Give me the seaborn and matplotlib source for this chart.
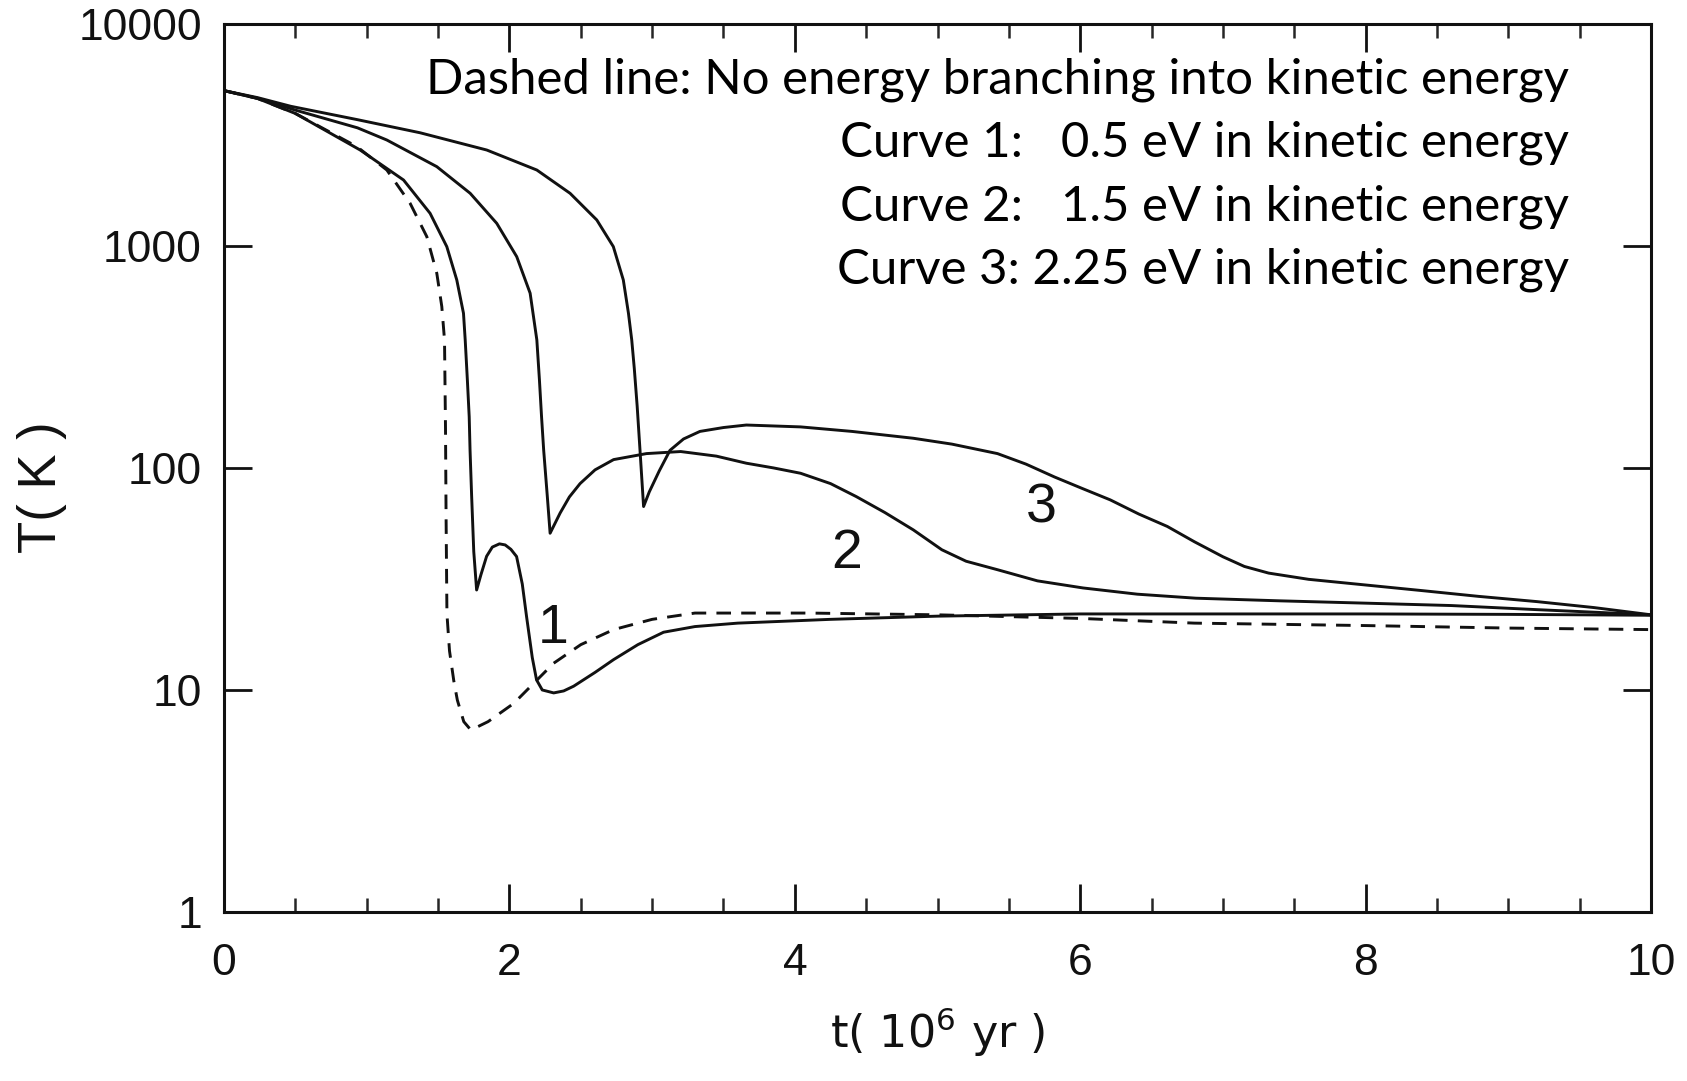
import numpy as np
import pandas as pd
import matplotlib
matplotlib.use("Agg")
import matplotlib.pyplot as plt
import seaborn as sns
from matplotlib.ticker import FixedLocator, NullLocator, MultipleLocator

# ---- data ----
t_dash = [0, 0.235, 0.5, 0.93, 1.141, 1.304, 1.421, 1.491, 1.526, 1.545, 1.552, 1.556, 1.562, 1.58,
          1.61, 1.635, 1.68, 1.73, 1.85, 2.03, 2.31, 2.5, 2.73, 3.0, 3.3, 4.1, 5.0, 6.0, 6.8, 8.0,
          9.0, 10.0]
T_dash = [5000, 4610, 3945, 2800, 2195, 1554, 1100, 752, 533, 377, 150, 60, 22, 15,
          11, 9.0, 7.2, 6.6, 7.2, 8.7, 13.2, 16.0, 18.7, 20.8, 22.2, 22.2, 21.8, 21.0, 20.0, 19.5,
          19.0, 18.7]

t_c1 = [0, 0.235, 0.5, 0.954, 1.258, 1.444, 1.561, 1.631, 1.678, 1.690, 1.705, 1.718, 1.724, 1.735,
        1.75, 1.77, 1.80, 1.84, 1.88, 1.93, 1.97, 2.01, 2.05, 2.09, 2.12, 2.16, 2.19, 2.23, 2.31,
        2.38, 2.45, 2.6, 2.73, 2.9, 3.08, 3.3, 3.6, 4.25, 5.0, 6.0, 7.0, 8.0, 9.0, 10.0]
T_c1 = [5000, 4610, 3945, 2701, 1979, 1401, 992, 702, 497, 377, 250, 170, 120, 75,
        42, 28.2, 33, 40, 44, 45.5, 45, 43, 39.9, 30, 21.4, 14, 11.1, 10.0, 9.7,
        9.9, 10.4, 12, 13.7, 16, 18.2, 19.3, 20, 20.8, 21.5, 22, 22, 22, 21.9, 21.7]

t_c2 = [0, 0.235, 0.5, 0.935, 1.141, 1.491, 1.725, 1.911, 2.051, 2.145, 2.192, 2.21, 2.225, 2.24,
        2.265, 2.285, 2.355, 2.42, 2.495, 2.6, 2.73, 2.96, 3.2, 3.45, 3.66, 3.85, 4.04, 4.25, 4.43,
        4.63, 4.83, 5.03, 5.2, 5.42, 5.7, 6.02, 6.4, 6.81, 7.4, 8.0, 8.6, 9.2, 9.6, 10.0]
T_c2 = [5000, 4620, 4085, 3400, 2996, 2273, 1724, 1263, 894, 612, 377, 250, 170, 120,
        75, 50.8, 62.6, 74, 85, 98, 109, 116, 118.5, 113, 105, 100, 94.6, 85, 74.3,
        63, 52.6, 42.8, 38, 34.8, 31, 28.8, 27, 25.9, 25.2, 24.6, 24, 23, 22.4, 21.8]

t_c3 = [0, 0.235, 0.468, 0.935, 1.374, 1.841, 2.192, 2.425, 2.612, 2.728, 2.798, 2.834, 2.857,
        2.875, 2.895, 2.915, 2.94, 2.98, 3.05, 3.125, 3.22, 3.335, 3.5, 3.66, 4.04, 4.4, 4.83,
        5.1, 5.42, 5.62, 5.82, 6.01, 6.21, 6.41, 6.61, 6.8, 7.0, 7.15, 7.32, 7.6, 8.0, 8.4, 8.79,
        9.2, 9.6, 10.0]
T_c3 = [5000, 4650, 4250, 3700, 3230, 2701, 2195, 1724, 1308, 992, 702, 497, 377,
        280, 190, 120, 67, 78, 97, 120, 135, 146, 152, 156, 153, 146, 136,
        128, 116, 104, 91, 81, 71.8, 62, 54.5, 46.5, 39.8, 36, 33.6, 31.5, 29.7, 28, 26.4,
        25, 23.5, 21.8]

y_ticks = [1, 10, 100, 1000, 10000]
y_tick_labels = ["1", "10", "100", "1000", "10000"]
x_ticks = [0, 2, 4, 6, 8, 10]
x_tick_labels = ["0", "2", "4", "6", "8", "10"]

curve_labels = ["1", "2", "3"]
curve_label_t = [2.31, 4.36, 5.73]
curve_label_T = [18.8, 41, 65.5]

notes = ["Dashed line: No energy branching into kinetic energy",
         "Curve 1:   0.5 eV in kinetic energy",
         "Curve 2:   1.5 eV in kinetic energy",
         "Curve 3: 2.25 eV in kinetic energy"]

# ---- plot ----
sns.set_theme(style="ticks")
plt.rcParams['font.family'] = ['Liberation Sans', 'DejaVu Sans']

fig = plt.figure(figsize=(16.87, 10.81), dpi=100)
ax = fig.add_axes([0.1328, 0.1563, 0.9787 - 0.1328, 0.978 - 0.1563])

ink = "#111111"
lw = 2.1
sns.lineplot(x=t_dash, y=T_dash, ax=ax, sort=False, estimator=None, color=ink, lw=lw,
             linestyle=(0, (5, 3.5)))
for tt, TT in [(t_c1, T_c1), (t_c2, T_c2), (t_c3, T_c3)]:
    sns.lineplot(x=tt, y=TT, ax=ax, sort=False, estimator=None, color=ink, lw=lw)

ax.set_yscale("log")
ax.set_xlim(0, 10)
ax.set_ylim(1, 10000)
ax.yaxis.set_major_locator(FixedLocator(y_ticks))
ax.yaxis.set_minor_locator(NullLocator())
ax.set_yticklabels(y_tick_labels)
ax.xaxis.set_major_locator(FixedLocator(x_ticks))
ax.set_xticklabels(x_tick_labels)
ax.xaxis.set_minor_locator(MultipleLocator(0.5))

for s in ax.spines.values():
    s.set_linewidth(2.2)
    s.set_color(ink)
ax.tick_params(which="major", direction="in", length=20, width=2, top=True, right=True,
               labelsize=32, colors=ink)
ax.tick_params(which="minor", direction="in", length=10, width=1.8, top=True, right=True)
ax.tick_params(axis="y", pad=16)
ax.tick_params(axis="x", pad=22)

ax.set_xlabel("t( 10$^{6}$ yr )", fontsize=32, color=ink, family=['DejaVu Sans'])
ax.set_ylabel("T( K )", fontsize=38, color=ink)
ax.xaxis.set_label_coords(0.5, -0.105)
ax.yaxis.set_label_coords(-0.11, 0.478)

for lab, lt, lT in zip(curve_labels, curve_label_t, curve_label_T):
    ax.text(lt, lT, lab, fontsize=40, ha="center", va="center", color=ink,
            family=['Liberation Sans Narrow', 'Liberation Sans'])

note_y = [0.9216, 0.8503, 0.779, 0.7078]
for txt, yy in zip(notes, note_y):
    ax.text(0.9425, yy, txt, transform=ax.transAxes, ha="right", va="baseline",
            fontsize=35.4, color="black", family=['Lato', 'DejaVu Sans'])

fig.savefig("out.png", dpi=100, facecolor="white")
